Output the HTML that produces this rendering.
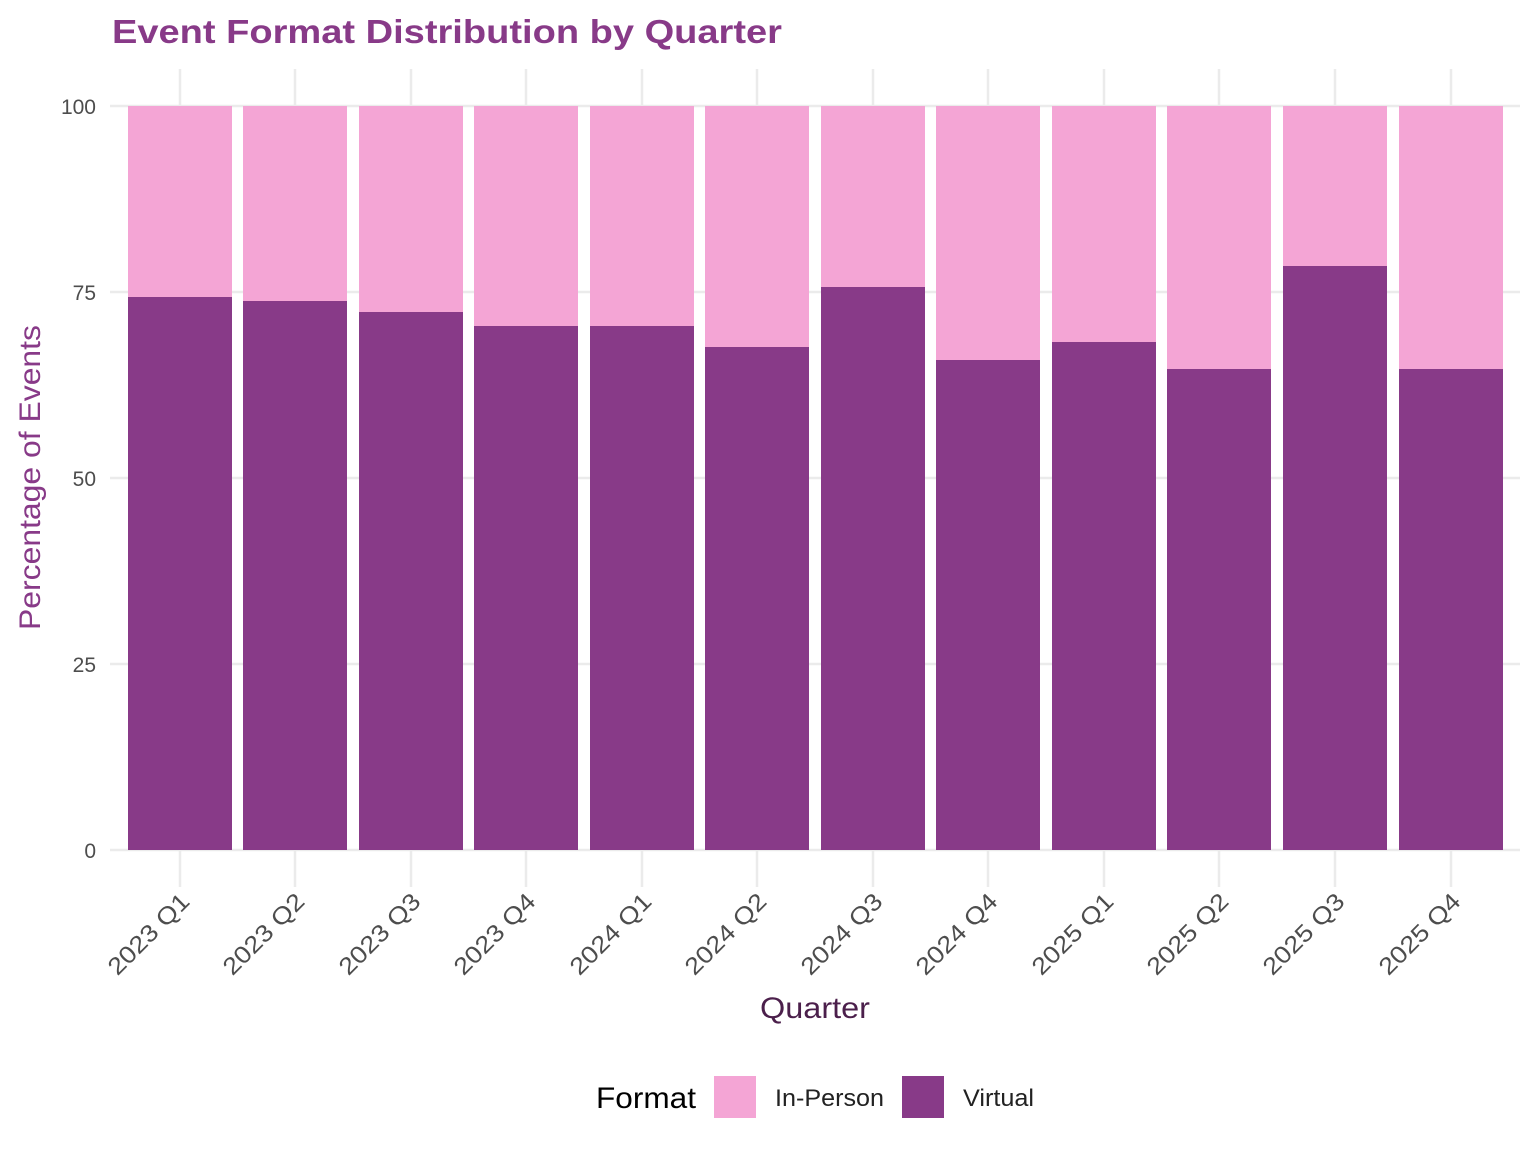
<!DOCTYPE html>
<html><head><style>body{margin:0;background:#fff}</style></head><body>
<svg width="1536" height="1152" xmlns="http://www.w3.org/2000/svg" font-family="Liberation Sans, Arial, sans-serif">
<rect width="1536" height="1152" fill="#fff"/>
<text x="112" y="43" font-size="33" font-weight="bold" fill="#883A88" textLength="670" lengthAdjust="spacingAndGlyphs">Event Format Distribution by Quarter</text>
<g stroke="#EBEBEB" stroke-width="2.5">
<line x1="110" x2="1520" y1="106" y2="106"/><line x1="110" x2="1520" y1="292" y2="292"/><line x1="110" x2="1520" y1="478" y2="478"/><line x1="110" x2="1520" y1="664" y2="664"/><line x1="110" x2="1520" y1="850" y2="850"/>
<line x1="180" x2="180" y1="69" y2="887"/><line x1="295" x2="295" y1="69" y2="887"/><line x1="411" x2="411" y1="69" y2="887"/><line x1="526" x2="526" y1="69" y2="887"/><line x1="642" x2="642" y1="69" y2="887"/><line x1="757" x2="757" y1="69" y2="887"/><line x1="873" x2="873" y1="69" y2="887"/><line x1="988" x2="988" y1="69" y2="887"/><line x1="1104" x2="1104" y1="69" y2="887"/><line x1="1219" x2="1219" y1="69" y2="887"/><line x1="1335" x2="1335" y1="69" y2="887"/><line x1="1451" x2="1451" y1="69" y2="887"/>
</g>
<g fill="#F4A5D5">
<rect x="128" y="106" width="104" height="744"/><rect x="243" y="106" width="104" height="744"/><rect x="359" y="106" width="104" height="744"/><rect x="474" y="106" width="104" height="744"/><rect x="590" y="106" width="104" height="744"/><rect x="705" y="106" width="104" height="744"/><rect x="821" y="106" width="104" height="744"/><rect x="936" y="106" width="104" height="744"/><rect x="1052" y="106" width="104" height="744"/><rect x="1167" y="106" width="104" height="744"/><rect x="1283" y="106" width="104" height="744"/><rect x="1399" y="106" width="104" height="744"/>
</g>
<g fill="#883A88">
<rect x="128" y="297" width="104" height="553"/><rect x="243" y="301" width="104" height="549"/><rect x="359" y="312" width="104" height="538"/><rect x="474" y="326" width="104" height="524"/><rect x="590" y="326" width="104" height="524"/><rect x="705" y="347" width="104" height="503"/><rect x="821" y="287" width="104" height="563"/><rect x="936" y="360" width="104" height="490"/><rect x="1052" y="342" width="104" height="508"/><rect x="1167" y="369" width="104" height="481"/><rect x="1283" y="266" width="104" height="584"/><rect x="1399" y="369" width="104" height="481"/>
</g>
<g font-size="21" fill="#4D4D4D" text-anchor="end">
<text x="96" y="114">100</text><text x="96" y="300">75</text><text x="96" y="486">50</text><text x="96" y="672">25</text><text x="96" y="858">0</text>
</g>
<g font-size="24" fill="#4D4D4D" text-anchor="end" lengthAdjust="spacingAndGlyphs">
<text transform="translate(191,903) rotate(-45)" textLength="104" lengthAdjust="spacingAndGlyphs">2023 Q1</text>
<text transform="translate(306,903) rotate(-45)" textLength="104" lengthAdjust="spacingAndGlyphs">2023 Q2</text>
<text transform="translate(422,903) rotate(-45)" textLength="104" lengthAdjust="spacingAndGlyphs">2023 Q3</text>
<text transform="translate(537,903) rotate(-45)" textLength="104" lengthAdjust="spacingAndGlyphs">2023 Q4</text>
<text transform="translate(653,903) rotate(-45)" textLength="104" lengthAdjust="spacingAndGlyphs">2024 Q1</text>
<text transform="translate(768,903) rotate(-45)" textLength="104" lengthAdjust="spacingAndGlyphs">2024 Q2</text>
<text transform="translate(884,903) rotate(-45)" textLength="104" lengthAdjust="spacingAndGlyphs">2024 Q3</text>
<text transform="translate(999,903) rotate(-45)" textLength="104" lengthAdjust="spacingAndGlyphs">2024 Q4</text>
<text transform="translate(1115,903) rotate(-45)" textLength="104" lengthAdjust="spacingAndGlyphs">2025 Q1</text>
<text transform="translate(1230,903) rotate(-45)" textLength="104" lengthAdjust="spacingAndGlyphs">2025 Q2</text>
<text transform="translate(1346,903) rotate(-45)" textLength="104" lengthAdjust="spacingAndGlyphs">2025 Q3</text>
<text transform="translate(1462,903) rotate(-45)" textLength="104" lengthAdjust="spacingAndGlyphs">2025 Q4</text>
</g>
<text x="760" y="1018" font-size="30" fill="#4B1F4B" textLength="110" lengthAdjust="spacingAndGlyphs">Quarter</text>
<text transform="translate(40,630) rotate(-90)" font-size="30" fill="#883A88" textLength="305" lengthAdjust="spacingAndGlyphs">Percentage of Events</text>
<text x="596" y="1108" font-size="30" fill="#000" textLength="100" lengthAdjust="spacingAndGlyphs">Format</text>
<rect x="714" y="1076" width="42" height="42" fill="#F4A5D5"/>
<text x="775" y="1106" font-size="24" fill="#222" textLength="109" lengthAdjust="spacingAndGlyphs">In-Person</text>
<rect x="902" y="1076" width="42" height="42" fill="#883A88"/>
<text x="963" y="1106" font-size="24" fill="#222" textLength="71" lengthAdjust="spacingAndGlyphs">Virtual</text>
</svg>
</body></html>
